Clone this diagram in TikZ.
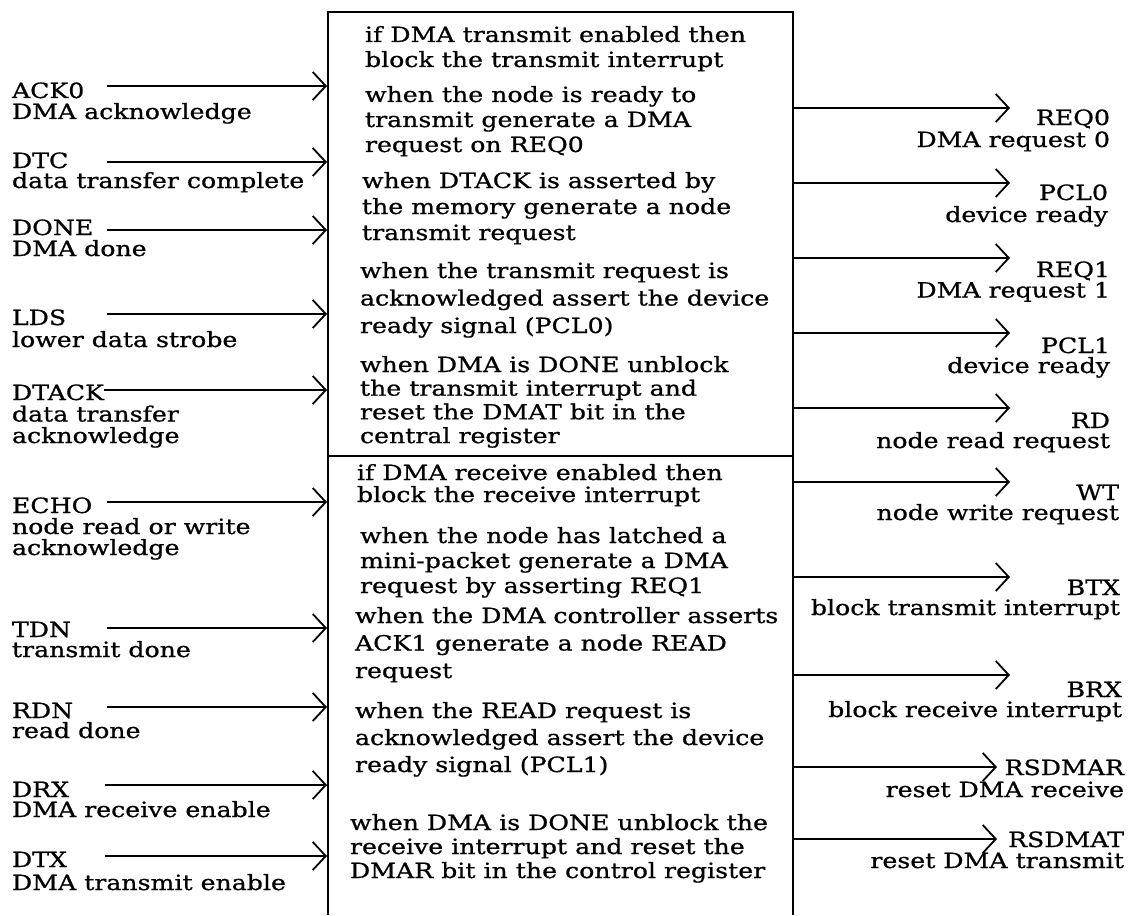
\documentclass[tikz,border=0pt]{standalone}
\usepackage{fontspec}
\setmainfont{DejaVu Serif}[FakeStretch=1.2, FakeBold=0.8]
\usetikzlibrary{arrows.meta}

% stacked lines with a fixed baseline distance; the baseline of the
% whole stack is the baseline of its first line
\newcommand\linesL[2]{\vtop{\baselineskip=#1\lineskiplimit=-60pt\lineskip=0pt%
  \let\\\cr\halign{##\hfil\cr#2\crcr}}}
\newcommand\linesR[2]{\vtop{\baselineskip=#1\lineskiplimit=-60pt\lineskip=0pt%
  \let\\\cr\halign{\hfil##\cr#2\crcr}}}
\newcommand\sigfont{\fontsize{21}{25}\selectfont}

\tikzset{
  txt/.style={font=\sigfont, inner sep=0pt, outer sep=0pt},
  lbl/.style={txt, anchor=base west},
  rlbl/.style={txt, anchor=base east},
  frame/.style={line width=1.8pt},
  wire/.style={line width=1.8pt, -{Straight Barb[length=13pt,width=28pt,line width=1.8pt]}},
}

\begin{document}
\begin{tikzpicture}[x=1pt, y=-1pt]
\useasboundingbox (0,0) rectangle (1129,915);

% ---- controller box (open at the bottom) ----
\coordinate (boxTL) at (328,12);
\coordinate (boxTR) at (793,12);
\coordinate (boxBL) at (328,915);
\coordinate (boxBR) at (793,915);
\coordinate (divL) at (328,456);
\coordinate (divR) at (793,456);
\draw[frame] (boxBL) -- (boxTL) -- (boxTR) -- (boxBR);
\draw[frame] (divL) -- (divR);

% ---- transmit side ----
\node[lbl] (t1) at (365,42)  {\linesL{25pt}{if DMA transmit enabled then\\block the transmit interrupt}};
\node[lbl] (t2) at (365,102) {\linesL{25pt}{when the node is ready to\\transmit generate a DMA\\request on REQ0}};
\node[lbl] (t3) at (362,188) {\linesL{26pt}{when DTACK is asserted by\\the memory generate a node\\transmit request}};
\node[lbl] (t4) at (360,278) {\linesL{27.5pt}{when the transmit request is\\acknowledged assert the device\\ready signal (PCL0)}};
\node[lbl] (t5) at (360,372) {\linesL{23.7pt}{when DMA is DONE unblock\\the transmit interrupt and\\reset the DMAT bit in the\\central register}};

% ---- receive side ----
\node[lbl] (r1) at (357,480) {\linesL{22pt}{if DMA receive enabled then\\block the receive interrupt}};
\node[lbl] (r2) at (360,543) {\linesL{25pt}{when the node has latched a\\mini-packet generate a DMA\\request by asserting REQ1}};
\node[lbl] (r3) at (355,623) {\linesL{27.5pt}{when the DMA controller asserts\\ACK1 generate a node READ\\request}};
\node[lbl] (r4) at (355,718) {\linesL{27pt}{when the READ request is\\acknowledged assert the device\\ready signal (PCL1)}};
\node[lbl] (r5) at (350,830) {\linesL{24pt}{when DMA is DONE unblock the\\receive interrupt and reset the\\DMAR bit in the control register}};

% ---- inputs ----
\foreach \nm/\yb/\ya/\xs/\sp/\txt in {
  ack0/98/86/107/21pt/{ACK0\\DMA acknowledge},
  dtc/168/162/107/20pt/{DTC\\data transfer complete},
  done/235/230/107/21pt/{DONE\\DMA done},
  lds/325/314/107/22pt/{LDS\\lower data strobe},
  dtack/400/390/104/21.5pt/{DTACK\\data transfer\\acknowledge},
  echo/513/502/107/21pt/{ECHO\\node read or write\\acknowledge},
  tdn/637/628/107/20pt/{TDN\\transmit done},
  rdn/718/707/107/20pt/{RDN\\read done},
  drx/797/785/105/20pt/{DRX\\DMA receive enable},
  dtx/867/856/105/23pt/{DTX\\DMA transmit enable}}
{
  \node[lbl] (in-\nm) at (12,\yb) {\linesL{\sp}{\txt}};
  \coordinate (in-\nm-s) at (\xs,\ya);
  \coordinate (in-\nm-e) at (327,\ya);
  \draw[wire] (in-\nm-s) -- (in-\nm-e);
}

% ---- outputs ----
\foreach \nm/\yb/\ya/\xr/\xe/\sp/\txt in {
  req0/125/108/1110/1010/22pt/{REQ0\\DMA request 0},
  pcl0/200/183/1108/1010/22pt/{PCL0\\device ready},
  req1/277/258/1110/1010/20.5pt/{REQ1\\DMA request 1},
  pcl1/353/333/1110/1010/20pt/{PCL1\\device ready},
  rd/428/408/1110/1010/20pt/{RD\\node read request},
  wt/500/482/1119/1010/20pt/{WT\\node write request},
  btx/595/577/1120/1010/20pt/{BTX\\block transmit interrupt},
  brx/697/675/1122/1010/20pt/{BRX\\block receive interrupt},
  rsdmar/775/767/1124/997/22pt/{RSDMAR\\reset DMA receive},
  rsdmat/847/839/1124/997/21pt/{RSDMAT\\reset DMA transmit}}
{
  \node[rlbl] (out-\nm) at (\xr,\yb) {\linesR{\sp}{\txt}};
  \coordinate (out-\nm-s) at (793,\ya);
  \coordinate (out-\nm-e) at (\xe,\ya);
  \draw[wire] (out-\nm-s) -- (out-\nm-e);
}
\end{tikzpicture}
\end{document}
